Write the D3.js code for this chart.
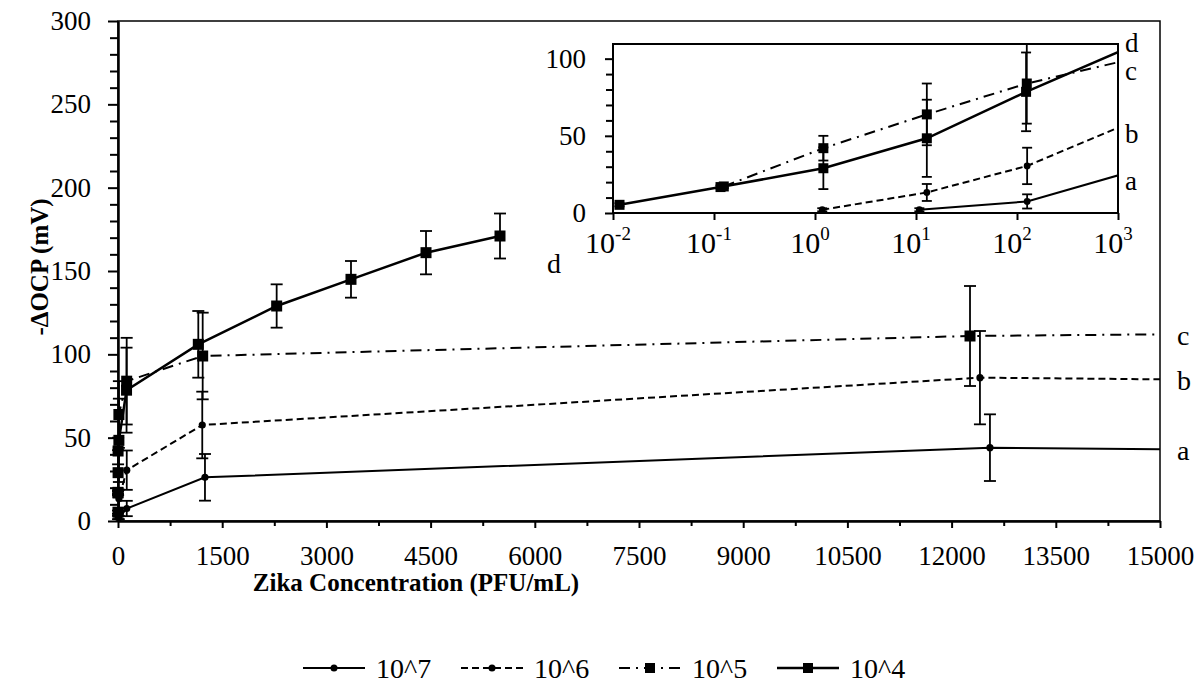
<!DOCTYPE html>
<html>
<head>
<meta charset="utf-8">
<script src="https://cdn.jsdelivr.net/npm/d3@7"></script>
<style>
  body { margin: 0; background: #fff; }
  svg text { font-family: 'Liberation Serif', 'Times New Roman', serif !important; fill: #000; }
</style>
</head>
<body>
<div id="chart"></div>
<script>
// Zika OCP response, four antibody dilutions (a..d)
var seriesNames = ['10^7', '10^6', '10^5', '10^4'];
var curveLabels = ['a', 'b', 'c', 'd'];

// concentration (PFU/mL), -dOCP (mV), error (mV); null error = line end only
var conc7 = [10.8, 126, 1252, 12552, 15000];
var ocp7 = [2.1, 7.5, 26.2, 44, 43];
var err7 = [1, 4.6, 14, 20, null];

var conc6 = [1.18, 12.8, 126, 1213, 12408, 15000];
var ocp6 = [2.1, 13.3, 30.5, 57.6, 86, 85];
var err6 = [1, 5.5, 11.8, 20, 28, null];

var conc5 = [0.125, 1.21, 12.8, 125, 1219, 12265, 15000];
var ocp5 = [17.2, 42, 63.9, 83.9, 99, 111, 112];
var err5 = [1, 8, 20, 26, 26, 30, null];

var conc4 = [0.0116, 0.116, 1.21, 12.8, 123, 1156, 2284, 3354, 4434, 5499];
var ocp4 = [5.3, 16.8, 29, 48.4, 78.5, 106, 129, 145, 161, 171];
var err4 = [1, 1, 13.5, 25, 25.5, 20, 13, 11, 13, 13.5];

var mainXTicks = [0, 1500, 3000, 4500, 6000, 7500, 9000, 10500, 12000, 13500, 15000];
var mainYTicks = [0, 50, 100, 150, 200, 250, 300];
var insetXTicks = [-2, -1, 0, 1, 2, 3];   // exponents of ten
var insetYTicks = [0, 50, 100];

var font = "'Liberation Serif', 'Times New Roman', serif";

function buildSeries(names, concs, ocps, errs) {
    return names.map(function (name, i) {
        return {
            name: name,
            label: curveLabels[i],
            points: concs[i].map(function (c, j) {
                return { x: c, y: ocps[i][j], e: errs[i][j] };
            })
        };
    });
}

var series = buildSeries(seriesNames,
    [conc7, conc6, conc5, conc4],
    [ocp7, ocp6, ocp5, ocp4],
    [err7, err6, err5, err4]);

var styles = [
    { dash: null, width: 2, marker: 'circle' },
    { dash: '7,4', width: 2, marker: 'circle' },
    { dash: '11,6,2,6', width: 2, marker: 'square' },
    { dash: null, width: 2.5, marker: 'square' }
];

var W = 1203, H = 683;
var svg = d3.select('#chart').append('svg')
    .attr('width', W)
    .attr('height', H)
    .attr('font-family', font);

// ---------- main plot ----------
var mx = d3.scaleLinear().domain([0, 15000]).range([118, 1160]);
var my = d3.scaleLinear().domain([0, 300]).range([521, 21]);

svg.append('clipPath').attr('id', 'mainClip')
    .append('rect').attr('x', 118).attr('y', 21).attr('width', 1042).attr('height', 500);
svg.append('clipPath').attr('id', 'insetClip')
    .append('rect').attr('x', 613).attr('y', 44).attr('width', 505).attr('height', 169);

// frame (top + right)
svg.append('rect')
    .attr('x', 118).attr('y', 21).attr('width', 1042).attr('height', 500)
    .attr('fill', 'none').attr('stroke', '#000').attr('stroke-width', 1.5);

function drawPanel(g, xs, ys, clipId, cap, sq, rad) {
    var line = d3.line()
        .x(function (d) { return xs(d.x); })
        .y(function (d) { return ys(d.y); });

    series.forEach(function (s, i) {
        var st = styles[i];
        g.append('path')
            .datum(s.points)
            .attr('clip-path', 'url(#' + clipId + ')')
            .attr('d', line)
            .attr('fill', 'none')
            .attr('stroke', '#000')
            .attr('stroke-width', st.width)
            .attr('stroke-dasharray', st.dash);
    });

    series.forEach(function (s, i) {
        var st = styles[i];
        var pts = s.points.filter(function (d) {
            return d.e !== null && d.x >= xs.domain()[0] && d.x <= xs.domain()[1];
        });
        var eb = g.append('g').attr('stroke', '#000').attr('stroke-width', 1.8);
        pts.forEach(function (d) {
            var cx = xs(d.x);
            var top = Math.max(ys(d.y + d.e), ys.range()[1]);
            var bot = Math.min(ys(d.y - d.e), ys.range()[0]);
            eb.append('line').attr('x1', cx).attr('x2', cx).attr('y1', top).attr('y2', bot);
            if (ys(d.y + d.e) >= ys.range()[1])
                eb.append('line').attr('x1', cx - cap / 2).attr('x2', cx + cap / 2).attr('y1', top).attr('y2', top);
            if (ys(d.y - d.e) <= ys.range()[0])
                eb.append('line').attr('x1', cx - cap / 2).attr('x2', cx + cap / 2).attr('y1', bot).attr('y2', bot);
        });
        pts.forEach(function (d) {
            if (st.marker === 'square') {
                g.append('rect')
                    .attr('x', xs(d.x) - sq / 2).attr('y', ys(d.y) - sq / 2)
                    .attr('width', sq).attr('height', sq).attr('fill', '#000');
            } else {
                g.append('circle')
                    .attr('cx', xs(d.x)).attr('cy', ys(d.y))
                    .attr('r', rad).attr('fill', '#000');
            }
        });
    });
}

var mainG = svg.append('g');
drawPanel(mainG, mx, my, 'mainClip', 12, 11, 3.6);

function serifTicks(g, size) {
    g.attr('font-family', null).attr('font-size', null);
    g.selectAll('text')
        .attr('font-family', font)
        .style('font-family', font)
        .style('font-size', size + 'px');
}

// main axes
var xMinor = d3.axisBottom(mx).tickValues(d3.range(750, 15000, 1500))
    .tickSize(5).tickSizeOuter(0).tickFormat('');
svg.append('g').attr('transform', 'translate(0,521)').call(xMinor)
    .call(function (g) { g.select('.domain').remove(); });

var xAxis = d3.axisBottom(mx).tickValues(mainXTicks)
    .tickSize(7).tickSizeOuter(0).tickPadding(18).tickFormat(d3.format('d'));
var gx = svg.append('g').attr('transform', 'translate(0,521)').call(xAxis);
serifTicks(gx, 27);

var yMinor = d3.axisLeft(my).tickValues(d3.range(0, 301, 10).filter(function (v) { return v % 50 !== 0; }))
    .tickSize(8).tickSizeOuter(0).tickFormat('');
svg.append('g').attr('transform', 'translate(118,0)').call(yMinor)
    .call(function (g) { g.select('.domain').remove(); });

var yAxis = d3.axisLeft(my).tickValues(mainYTicks)
    .tickSize(10).tickSizeOuter(0).tickPadding(17).tickFormat(d3.format('d'));
var gy = svg.append('g').attr('transform', 'translate(118,0)').call(yAxis);
serifTicks(gy, 27);

svg.selectAll('.domain').attr('stroke-width', 2.5);
svg.selectAll('.tick line').attr('stroke-width', 2);

// axis titles
svg.append('text')
    .attr('x', 416).attr('y', 591)
    .attr('text-anchor', 'middle')
    .style('font-size', '25px').style('font-weight', 'bold')
    .text('Zika Concentration (PFU/mL)');

svg.append('text')
    .attr('transform', 'translate(48,267) rotate(-90)')
    .attr('text-anchor', 'middle')
    .style('font-size', '25px').style('font-weight', 'bold')
    .text('-\u0394OCP (mV)');

// curve labels on main plot
series.forEach(function (s, i) {
    var last = s.points[s.points.length - 1];
    var lx, ly;
    if (s.label === 'd') { lx = mx(last.x) + 47; ly = my(last.y) + 28; }
    else { lx = 1177; ly = my(last.y) + 2; }
    svg.append('text')
        .attr('x', lx).attr('y', ly).attr('dy', '0.32em')
        .style('font-size', '28px')
        .text(s.label);
});

// ---------- inset (log x) ----------
var ix = d3.scaleLog().domain([0.01, 1000]).range([613, 1118]);
var iy = d3.scaleLinear().domain([0, 109.5]).range([213, 44]);

svg.append('rect')
    .attr('x', 613).attr('y', 44).attr('width', 505).attr('height', 169)
    .attr('fill', '#fff').attr('stroke', '#000').attr('stroke-width', 2);

var insetG = svg.append('g');
drawPanel(insetG, ix, iy, 'insetClip', 10, 10, 3.4);

var iyMinor = d3.axisLeft(iy).tickValues(d3.range(0, 110, 10).filter(function (v) { return v % 50 !== 0; }))
    .tickSize(7).tickSizeOuter(0).tickFormat('');
svg.append('g').attr('transform', 'translate(613,0)').call(iyMinor)
    .call(function (g) { g.select('.domain').remove(); });

var iyAxis = d3.axisLeft(iy).tickValues(insetYTicks)
    .tickSize(8).tickSizeOuter(0).tickPadding(19).tickFormat(d3.format('d'));
var giy = svg.append('g').attr('transform', 'translate(613,0)').call(iyAxis);
serifTicks(giy, 27);
giy.select('.domain').remove();

var ixAxis = d3.axisBottom(ix)
    .tickValues(insetXTicks.map(function (p) { return Math.pow(10, p); }))
    .tickSize(7).tickSizeOuter(0).tickFormat('');
var gix = svg.append('g').attr('transform', 'translate(0,213)').call(ixAxis);
gix.select('.domain').remove();
svg.selectAll('.tick line').attr('stroke-width', 2);

insetXTicks.forEach(function (p) {
    var t = svg.append('text')
        .attr('x', ix(Math.pow(10, p)) - 5).attr('y', 253)
        .attr('text-anchor', 'middle')
        .style('font-size', '30px');
    t.append('tspan').text('10');
    t.append('tspan').attr('dy', -13).style('font-size', '19px').text(String(p));
});

// inset curve labels at the right edge (x = 10^3)
var insetLabelShift = [7, 7, 10, -8];
series.forEach(function (s, i) {
    var pts = s.points;
    var k = 0;
    while (k < pts.length - 1 && pts[k + 1].x < 1000) k++;
    var a = pts[k], b = pts[k + 1];
    var f = (Math.log10(1000) - Math.log10(a.x)) / (Math.log10(b.x) - Math.log10(a.x));
    var yEnd = a.y + f * (b.y - a.y);
    svg.append('text')
        .attr('x', 1125).attr('y', iy(yEnd) + insetLabelShift[i]).attr('dy', '0.30em')
        .style('font-size', '27px')
        .text(s.label);
});

// ---------- legend ----------
var legend = svg.append('g').attr('transform', 'translate(303,668)');
series.forEach(function (s, i) {
    var st = styles[i];
    var item = legend.append('g').attr('transform', 'translate(' + (i * 158) + ',0)');
    item.append('line')
        .attr('x1', 0).attr('x2', 62).attr('y1', 0).attr('y2', 0)
        .attr('stroke', '#000').attr('stroke-width', st.width)
        .attr('stroke-dasharray', st.dash);
    if (st.marker === 'square') {
        item.append('rect').attr('x', 26).attr('y', -5).attr('width', 10).attr('height', 10).attr('fill', '#000');
    } else {
        item.append('circle').attr('cx', 31).attr('cy', 0).attr('r', 3.5).attr('fill', '#000');
    }
    item.append('text')
        .attr('x', 73).attr('y', 0).attr('dy', '0.34em')
        .style('font-size', '28px')
        .text(s.name);
});
</script>
</body>
</html>
